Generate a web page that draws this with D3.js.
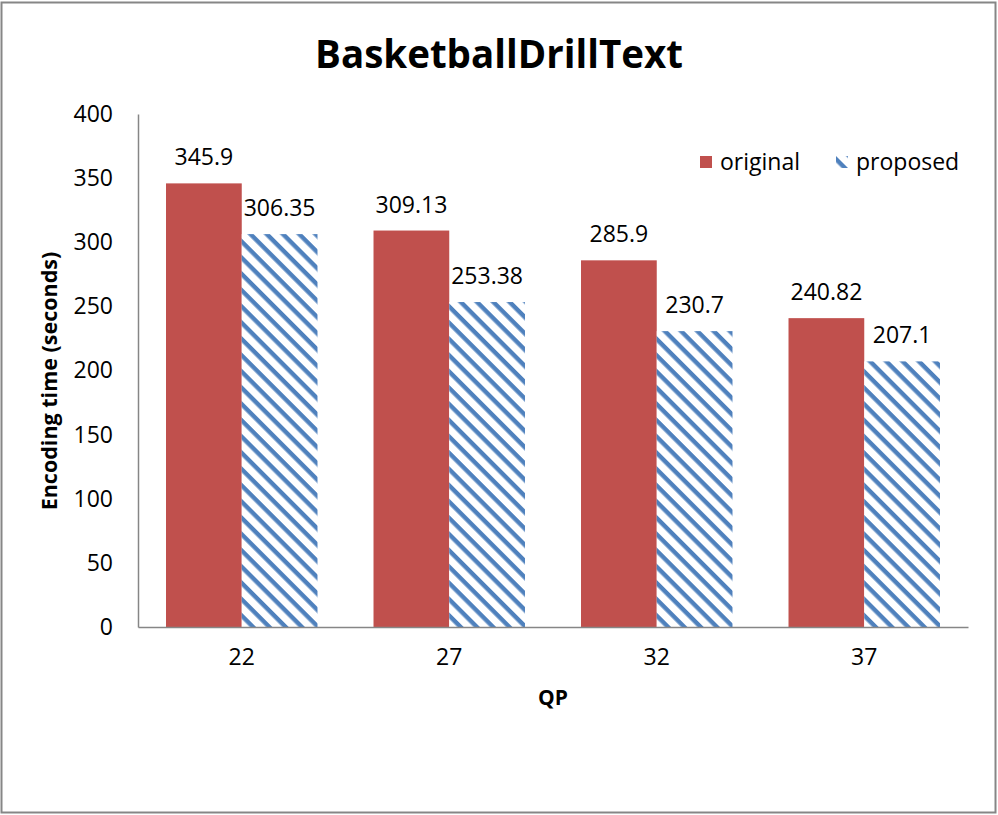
<!DOCTYPE html>
<html>
<head>
<meta charset="utf-8">
<script src="https://cdn.jsdelivr.net/npm/d3@7"></script>
<style>
  html, body { margin: 0; padding: 0; background: #fff; }
  svg { display: block; }
  text { font-family: "Open Sans", Lato, sans-serif; fill: #000; }
</style>
</head>
<body>
<svg id="chart" width="998" height="815"></svg>
<script>
// Encoding time per QP, original vs proposed encoder
const categories = ["22", "27", "32", "37"];
const seriesNames = ["original", "proposed"];
const originalValues = [345.9, 309.13, 285.9, 240.82];
const proposedValues = [306.35, 253.38, 230.7, 207.1];
const yTicks = [0, 50, 100, 150, 200, 250, 300, 350, 400];

const svg = d3.select("#chart");
const W = 998, H = 815;
const m = { left: 138, right: 30, top: 114, bottom: 188 };
const plotW = W - m.left - m.right;
const plotH = H - m.top - m.bottom;

const red = "#c0504d";
const blue = "#4f81bd";
const font = "'Open Sans', Lato, sans-serif";

// diagonal hatch for the "proposed" series
const defs = svg.append("defs");
const pat = defs.append("pattern")
  .attr("id", "hatch")
  .attr("patternUnits", "userSpaceOnUse")
  .attr("width", 11.5).attr("height", 11.5)
  .attr("patternTransform", "rotate(45)");
pat.append("rect").attr("width", 11.5).attr("height", 11.5).attr("fill", "#fff");
pat.append("rect").attr("x", 0).attr("y", 0).attr("width", 11.5).attr("height", 4.4).attr("fill", blue);

// outer frame
svg.append("rect")
  .attr("x", 1.5).attr("y", 2.5).attr("width", 994).attr("height", 810)
  .attr("fill", "#fff").attr("stroke", "#868686").attr("stroke-width", 2);

const g = svg.append("g").attr("transform", `translate(${m.left},${m.top})`);

const x0 = d3.scaleBand().domain(categories).range([0, plotW]).paddingInner(0.27).paddingOuter(0.135);
const x1 = d3.scaleBand().domain(seriesNames).range([0, x0.bandwidth()]);
const y = d3.scaleLinear().domain([0, 400]).range([plotH, 0]);

const rows = categories.map((c, i) => ({ cat: c, vals: [
  { key: "original", v: originalValues[i] },
  { key: "proposed", v: proposedValues[i] }
]}));

const groups = g.selectAll("g.cat").data(rows).join("g")
  .attr("class", "cat")
  .attr("transform", d => `translate(${x0(d.cat)},0)`);

groups.selectAll("rect").data(d => d.vals).join("rect")
  .attr("x", d => x1(d.key))
  .attr("y", d => y(d.v))
  .attr("width", x1.bandwidth())
  .attr("height", d => plotH - y(d.v))
  .attr("fill", d => d.key === "original" ? red : "url(#hatch)");

groups.selectAll("text.val").data(d => d.vals).join("text")
  .attr("class", "val")
  .attr("x", d => x1(d.key) + x1.bandwidth() / 2)
  .attr("y", d => y(d.v) - 18)
  .attr("text-anchor", "middle")
  .attr("font-size", 23)
  .text(d => d.v);

// y axis
const yAxis = g.append("g").call(d3.axisLeft(y).tickValues(yTicks).tickSize(0).tickPadding(25));
yAxis.select(".domain").attr("stroke", "#868686").attr("stroke-width", 1.5);
yAxis.selectAll("text").attr("font-size", 23).attr("font-family", font).attr("fill", "#000");

// x axis
const xAxis = g.append("g").attr("transform", `translate(0,${plotH})`)
  .call(d3.axisBottom(x0).tickSize(0).tickPadding(22));
xAxis.select(".domain").attr("stroke", "#868686").attr("stroke-width", 1.5);
xAxis.selectAll("text").attr("font-size", 23).attr("font-family", font).attr("fill", "#000");

// titles
svg.append("text").attr("x", 499).attr("y", 68).attr("text-anchor", "middle")
  .attr("font-size", 38.5).attr("font-weight", "bold").text("BasketballDrillText");
svg.append("text").attr("x", 553).attr("y", 705).attr("text-anchor", "middle")
  .attr("font-size", 21).attr("font-weight", "bold").text("QP");
svg.append("text").attr("transform", "translate(57,381) rotate(-90)").attr("text-anchor", "middle")
  .attr("font-size", 21.5).attr("font-weight", "bold").text("Encoding time (seconds)");

// legend
const legend = svg.append("g").attr("transform", "translate(700,156)");
const items = legend.selectAll("g").data(seriesNames).join("g")
  .attr("transform", (d, i) => `translate(${i * 136},0)`);
items.append("rect").attr("width", 12).attr("height", 12)
  .attr("fill", d => d === "original" ? red : "url(#hatch)");
items.append("text").attr("x", 20).attr("y", 14).attr("font-size", 23).text(d => d);
</script>
</body>
</html>
